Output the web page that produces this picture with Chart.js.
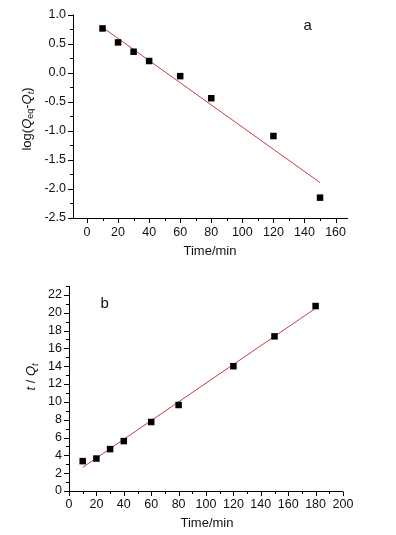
<!DOCTYPE html>
<html><head><meta charset="utf-8">
<script src="https://cdn.jsdelivr.net/npm/chart.js@4/dist/chart.umd.min.js"></script>
<style>
html,body{margin:0;padding:0;background:#fff;width:396px;height:535px;overflow:hidden}
canvas{position:absolute;left:0}
#ca{top:0}
#cb{top:267px}
</style></head><body>
<canvas id="ca" width="396" height="267"></canvas>
<canvas id="cb" width="396" height="268"></canvas>
<script>
// Panel a: pseudo-first-order
const timeA = [10, 20, 30, 40, 60, 80, 120, 150];
const logQ = [0.76, 0.52, 0.36, 0.2, -0.06, -0.44, -1.09, -2.15];
const fitAx = [10, 150];
const fitAy = [0.78, -1.89];
const xTicksA = [0, 20, 40, 60, 80, 100, 120, 140, 160];
const yTicksA = [1.0, 0.5, 0.0, -0.5, -1.0, -1.5, -2.0, -2.5];

// Panel b: pseudo-second-order
const timeB = [10, 20, 30, 40, 60, 80, 120, 150, 180];
const tQ = [3.35, 3.64, 4.7, 5.6, 7.74, 9.65, 14.0, 17.35, 20.75];
const fitBx = [10, 180];
const fitBy = [2.65, 20.5];
const xTicksB = [0, 20, 40, 60, 80, 100, 120, 140, 160, 180, 200];
const yTicksB = [0, 2, 4, 6, 8, 10, 12, 14, 16, 18, 20, 22];

const FONT = "'Liberation Sans', Arial, sans-serif";
Chart.defaults.font.family = FONT;
Chart.defaults.color = '#111';

function pts(xs, ys){ return xs.map((x,i)=>({x:x,y:ys[i]})); }

function axesPlugin(cfg){
  return {
    id:'axes',
    afterDraw(chart){
      const ctx = chart.ctx, xs = chart.scales.x, ys = chart.scales.y, a = chart.chartArea;
      ctx.save();
      ctx.strokeStyle = '#000'; ctx.lineWidth = 1;
      ctx.beginPath();
      ctx.moveTo(a.left+0.5, a.top); ctx.lineTo(a.left+0.5, a.bottom+0.5);
      ctx.lineTo(a.right, a.bottom+0.5);
      ctx.stroke();
      // x ticks
      ctx.beginPath();
      for (let v = cfg.xMinorStart; v <= xs.max; v += cfg.xMinor){
        const px = Math.round(xs.getPixelForValue(v))+0.5;
        const major = Math.abs((v/cfg.xMajor) - Math.round(v/cfg.xMajor)) < 1e-6;
        ctx.moveTo(px, a.bottom+0.5); ctx.lineTo(px, a.bottom + (major?5:3));
      }
      for (let v = ys.min; v <= ys.max + 1e-9; v += cfg.yMinor){
        const py = Math.round(ys.getPixelForValue(v))+0.5;
        const r = v/cfg.yMajor;
        const major = Math.abs(r - Math.round(r)) < 1e-6;
        ctx.moveTo(a.left+0.5, py); ctx.lineTo(a.left - (major?5:3), py);
      }
      ctx.stroke();
      // panel letter
      ctx.fillStyle = '#111';
      ctx.font = '15px ' + FONT;
      ctx.textAlign = 'center'; ctx.textBaseline = 'middle';
      ctx.fillText(cfg.letter, xs.getPixelForValue(cfg.letterX), ys.getPixelForValue(cfg.letterY));
      // x title
      ctx.font = '13px ' + FONT;
      ctx.fillText('Time/min', cfg.xTitleX, cfg.xTitleY);
      // y title
      ctx.translate(cfg.yTitleX, cfg.yTitleY);
      ctx.rotate(-Math.PI/2);
      const parts = cfg.yTitle;
      let total = 0;
      parts.forEach(p=>{ ctx.font = (p.i?'italic ':'') + (p.s?'9px ':'13px ') + FONT; total += ctx.measureText(p.t).width; });
      let x = -total/2;
      ctx.textAlign = 'left'; ctx.textBaseline = 'middle';
      parts.forEach(p=>{
        ctx.font = (p.i?'italic ':'') + (p.s?'9px ':'13px ') + FONT;
        ctx.fillText(p.t, x, p.s ? 4 : 0);
        x += ctx.measureText(p.t).width;
      });
      ctx.restore();
    }
  };
}

function makeChart(id, data, fit, xr, yr, xt, yt, area, canvasH, cfg){
  new Chart(document.getElementById(id), {
    type:'scatter',
    data:{datasets:[
      {data:fit, showLine:true, borderColor:'#cc3b3b', borderWidth:1, pointRadius:0, order:2},
      {data:data, pointStyle:'rect', pointRadius:4.6, backgroundColor:'#000', borderColor:'#000', borderWidth:0, order:1}
    ]},
    options:{
      responsive:false, animation:false, clip:false,
      layout:{padding:{left:0, top:area.top, right:396-area.right, bottom:0}},
      plugins:{legend:{display:false}, tooltip:{enabled:false}},
      scales:{
        x:{type:'linear', min:xr[0], max:xr[1],
           afterBuildTicks(s){ s.ticks = xt.map(v=>({value:v})); },
           afterFit(s){ s.height = canvasH - area.bottom; },
           grid:{display:false, drawTicks:false}, border:{display:false},
           ticks:{padding:cfg.xPad, font:{size:12.5}, color:'#111', maxRotation:0, autoSkip:false}},
        y:{type:'linear', min:yr[0], max:yr[1],
           afterBuildTicks(s){ s.ticks = yt.map(v=>({value:v})); },
           afterFit(s){ s.width = area.left; },
           grid:{display:false, drawTicks:false}, border:{display:false},
           ticks:{padding:7, font:{size:12.5}, color:'#111', autoSkip:false,
             callback:cfg.yFmt}}
      }
    },
    plugins:[axesPlugin(cfg)]
  });
}

makeChart('ca', pts(timeA, logQ), pts(fitAx, fitAy), [-9, 168], [-2.5, 1.0], xTicksA, yTicksA,
  {left:73, right:348, top:13, bottom:218}, 267,
  {xPad:7, xMinor:10, xMajor:20, xMinorStart:0, yMinor:0.25, yMajor:0.5, letter:'a', letterX:142, letterY:0.81,
   xTitleX:210, xTitleY:251, yTitleX:27, yTitleY:119,
   yFmt:(v)=>Number(v).toFixed(1),
   yTitle:[{t:'log('},{t:'Q',i:true},{t:'eq',s:true},{t:'-'},{t:'Q',i:true},{t:'t',i:true,s:true},{t:')'}]});

makeChart('cb', pts(timeB, tQ), pts(fitBx, fitBy), [0, 200], [0, 23], xTicksB, yTicksB,
  {left:69, right:343, top:19, bottom:224}, 268,
  {xPad:6, xMinor:10, xMajor:20, xMinorStart:0, yMinor:1, yMajor:2, letter:'b', letterX:26, letterY:21.0,
   xTitleX:207, xTitleY:256, yTitleX:31, yTitleY:110,
   yFmt:(v)=>String(v),
   yTitle:[{t:'t',i:true},{t:' / '},{t:'Q',i:true},{t:'t',i:true,s:true}]});
</script>
</body></html>
